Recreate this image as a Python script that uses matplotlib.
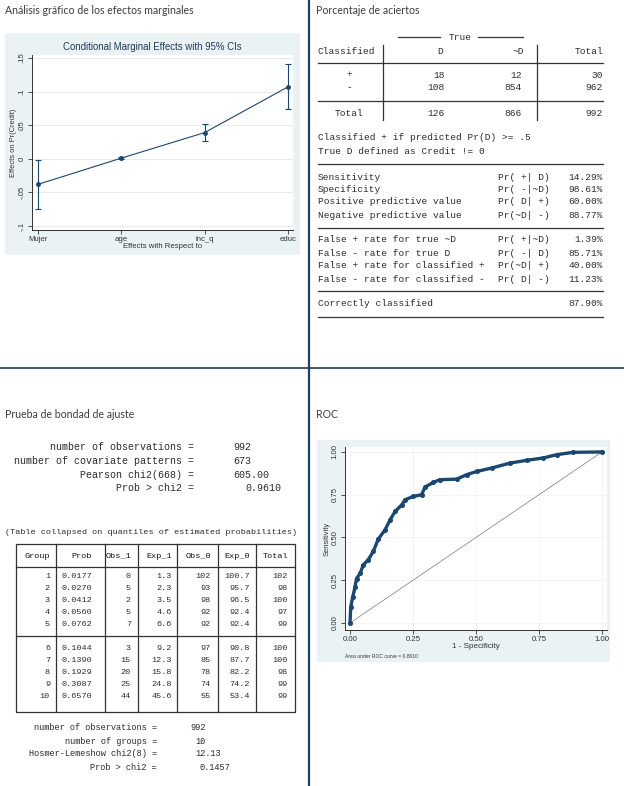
import matplotlib
matplotlib.use("Agg")
import matplotlib.pyplot as plt
from matplotlib.patches import Rectangle

W, H = 624, 786
MONO = "Liberation Mono"
SANS = "Liberation Sans"
NAVY = "#1a476f"
TXT = "#2b2b2b"

# efectos marginales
me_vars = ["Mujer", "age", "inc_q", "educ"]
me_val = [-0.038, 0.001, 0.039, 0.107]
me_lo = [-0.075, 0.0, 0.026, 0.074]
me_hi = [-0.002, 0.002, 0.052, 0.141]
me_yticks = [-0.1, -0.05, 0, 0.05, 0.1, 0.15]
me_ylabels = ["-.1", "-.05", "0", ".05", ".1", ".15"]

# tabla de clasificacion
cl_rows = ["+", "-", "Total"]
cl_D = [18, 108, 126]
cl_nD = [12, 854, 866]
cl_tot = [30, 962, 992]
st1_lbl = ["Sensitivity", "Specificity", "Positive predictive value",
           "Negative predictive value"]
st1_pr = ["Pr( +| D)", "Pr( -|~D)", "Pr( D| +)", "Pr(~D| -)"]
st1_val = [14.29, 98.61, 60.00, 88.77]
st2_lbl = ["False + rate for true ~D", "False - rate for true D",
           "False + rate for classified +", "False - rate for classified -"]
st2_pr = ["Pr( +|~D)", "Pr( -| D)", "Pr(~D| +)", "Pr( D| -)"]
st2_val = [1.39, 85.71, 40.00, 11.23]
correct = 87.90

# bondad de ajuste
gof_lbl = ["number of observations =", "number of covariate patterns =",
           "Pearson chi2(668) =", "Prob > chi2 ="]
gof_val = ["992", "673", "605.00", "0.9610"]
hl_cols = ["Group", "Prob", "Obs_1", "Exp_1", "Obs_0", "Exp_0", "Total"]
hl_group = [1, 2, 3, 4, 5, 6, 7, 8, 9, 10]
hl_prob = [0.0177, 0.0270, 0.0412, 0.0560, 0.0762, 0.1044, 0.1390, 0.1929, 0.3087, 0.6570]
hl_obs1 = [0, 5, 2, 5, 7, 3, 15, 20, 25, 44]
hl_exp1 = [1.3, 2.3, 3.5, 4.6, 6.6, 9.2, 12.3, 15.8, 24.8, 45.6]
hl_obs0 = [102, 93, 98, 92, 92, 97, 85, 78, 74, 55]
hl_exp0 = [100.7, 95.7, 96.5, 92.4, 92.4, 90.8, 87.7, 82.2, 74.2, 53.4]
hl_tot = [102, 98, 100, 97, 99, 100, 100, 98, 99, 99]
hl2_lbl = ["number of observations =", "number of groups =",
           "Hosmer-Lemeshow chi2(8) =", "Prob > chi2 ="]
hl2_val = ["992", "10", "12.13", "0.1457"]

# curva ROC
roc_fpr = [0, 0.003, 0.011, 0.02, 0.026, 0.04, 0.053, 0.073, 0.093, 0.112, 0.139,
           0.159, 0.179, 0.205, 0.218, 0.251, 0.284, 0.298, 0.331, 0.357, 0.423,
           0.463, 0.503, 0.562, 0.635, 0.701, 0.767, 0.82, 0.886, 1.0]
roc_tpr = [0, 0.094, 0.153, 0.21, 0.26, 0.29, 0.34, 0.37, 0.42, 0.49, 0.544,
           0.603, 0.652, 0.69, 0.72, 0.74, 0.75, 0.795, 0.822, 0.838, 0.841,
           0.867, 0.886, 0.906, 0.935, 0.951, 0.965, 0.984, 0.998, 1.0]
roc_area = 0.8010


def rect(x0, y0, x1, y1):
    return [x0 / W, 1 - y1 / H, (x1 - x0) / W, (y1 - y0) / H]


fig = plt.figure(figsize=(W / 100, H / 100), dpi=100)
ov = fig.add_axes([0, 0, 1, 1], zorder=0)
ov.set_xlim(0, W)
ov.set_ylim(H, 0)
ov.axis("off")


def t(x, y, s, ha="left", size=6.8, **kw):
    ov.text(x, y, s, ha=ha, va="center", family=MONO, size=size,
            color=kw.pop("color", TXT), **kw)


def hl(x0, x1, y, lw=0.9, c="#333333"):
    ov.plot([x0, x1], [y, y], color=c, lw=lw)


def vl(x, y0, y1, lw=0.9, c="#333333"):
    ov.plot([x, x], [y0, y1], color=c, lw=lw)


# separadores
vl(308.5, 0, H, lw=1.6, c="#1f3d5c")
hl(0, W, 368, lw=1.2, c="#1f3d5c")

# titulos de seccion
for x, y, s in [(5, 10, "Análisis gráfico de los efectos marginales"),
                (316, 10, "Porcentaje de aciertos"),
                (5, 415, "Prueba de bondad de ajuste"), (316, 415, "ROC")]:
    ov.text(x, y, s, ha="left", va="center", family="Lato", size=7.6, color="#3c3c3c")

# ---- panel 1: efectos marginales
ov.add_patch(Rectangle((5, 33), 295, 222, color="#eaf2f3", lw=0))
ax = fig.add_axes(rect(32, 55, 293, 230), zorder=1)
ax.set_facecolor("white")
xs = list(range(len(me_vars)))
ax.plot(xs, me_val, color=NAVY, lw=0.8, marker="o", ms=2.5)
ax.errorbar(xs, me_val, yerr=[[v - l for v, l in zip(me_val, me_lo)],
                              [h - v for v, h in zip(me_val, me_hi)]],
            fmt="none", ecolor=NAVY, elinewidth=0.8, capsize=2, capthick=0.8)
ax.set_xlim(-0.072, 3.06)
ax.set_ylim(-0.1059, 0.1544)
ax.set_xticks(xs, me_vars)
ax.set_yticks(me_yticks, me_ylabels)
ax.grid(axis="y", color="#e6e6e6", lw=0.6)
ax.set_axisbelow(True)
for s in ["top", "right"]:
    ax.spines[s].set_visible(False)
for s in ["left", "bottom"]:
    ax.spines[s].set_color("#333333")
    ax.spines[s].set_linewidth(0.7)
ax.tick_params(labelsize=5.6, length=3, width=0.6, pad=1.5, colors="#333333")
for lb in ax.get_yticklabels():
    lb.set_rotation(90)
    lb.set_va("center")
ax.set_ylabel("Effects on Pr(Credit)", size=5.4, family=SANS, labelpad=1, color="#333333")
ax.set_xlabel("Effects with Respect to", size=5.6, family=SANS, labelpad=-0.5, color="#333333")
ov.text(152, 47, "Conditional Marginal Effects with 95% CIs", ha="center", va="center",
        family=SANS, size=6.9, color="#1e3a5a")
for lb in ax.get_xticklabels() + ax.get_yticklabels():
    lb.set_family(SANS)

# ---- panel 2: tabla de clasificacion
hl(398, 440, 37)
t(460, 38, "True", ha="center")
hl(478, 523, 37)
t(318, 51, "Classified")
t(440, 51, "D", ha="center")
t(518, 51, "~D", ha="center")
t(603, 51, "Total", ha="right")
vl(383, 45, 120)
vl(537, 45, 120)
hl(318, 603, 63)
hl(318, 603, 101)
for y, r, a, b, c in zip([75, 88, 114], cl_rows, cl_D, cl_nD, cl_tot):
    t(349, y, r, ha="center")
    t(445, y, str(a), ha="right")
    t(522, y, str(b), ha="right")
    t(603, y, str(c), ha="right")
t(318, 138, "Classified + if predicted Pr(D) >= .5")
t(318, 152, "True D defined as Credit != 0")
for y in [164, 228, 291, 317]:
    hl(318, 603, y)
for ys, lbl, pr, val in [([177, 189, 202, 215], st1_lbl, st1_pr, st1_val),
                         ([240, 253, 266, 279], st2_lbl, st2_pr, st2_val)]:
    for y, a, b, c in zip(ys, lbl, pr, val):
        t(318, y, a)
        t(498, y, b)
        t(603, y, "%.2f%%" % c, ha="right")
t(318, 304, "Correctly classified")
t(603, 304, "%.2f%%" % correct, ha="right")

# ---- panel 3: bondad de ajuste
for y, a, b in zip([447, 461, 475, 488], gof_lbl, gof_val):
    t(194, y, a, ha="right", size=7.2)
    t(233 if b != gof_val[-1] else 245, y, b, size=7.2)
t(151, 532, "(Table collapsed on quantiles of estimated probabilities)", ha="center", size=6.1)

tx0, tx1, ty0, ty1 = 16, 295, 544, 712
ov.add_patch(Rectangle((tx0, ty0), tx1 - tx0, ty1 - ty0, fill=False, ec="#333333", lw=0.9))
for x in [56, 105, 138, 177, 218, 256]:
    vl(x, ty0, ty1)
hl(tx0, tx1, 567)
hl(tx0, tx1, 636)
col_r = [50, 92, 131, 172, 211, 250, 288]
for x, s in zip(col_r, hl_cols):
    t(x, 556, s, ha="right", size=6.1, color="#111111")
row_y = [577, 589, 600, 612, 624, 648, 660, 672, 684, 696]
for i, y in enumerate(row_y):
    vals = [str(hl_group[i]), "%.4f" % hl_prob[i], str(hl_obs1[i]), "%.1f" % hl_exp1[i],
            str(hl_obs0[i]), "%.1f" % hl_exp0[i], str(hl_tot[i])]
    for x, s in zip(col_r, vals):
        t(x, y, s, ha="right", size=6.1)
for y, a, b, x in zip([728, 741, 754, 767], hl2_lbl, hl2_val, [190, 195, 195, 200]):
    t(157, y, a, ha="right", size=6.2)
    t(x, y, b, size=6.2)

# ---- panel 4: ROC
ov.add_patch(Rectangle((317, 440), 293, 222, color="#eaf2f3", lw=0))
ar = fig.add_axes(rect(345, 447, 607, 630), zorder=1)
ar.set_facecolor("white")
ar.plot([0, 1], [0, 1], color="#777777", lw=0.5)
ar.plot(roc_fpr, roc_tpr, color=NAVY, lw=2.4, marker="o", ms=2.6,
        solid_joinstyle="round")
ar.set_xlim(-0.0198, 1.02)
ar.set_ylim(-0.041, 1.029)
rt = [0, 0.25, 0.5, 0.75, 1.0]
ar.set_xticks(rt, ["%.2f" % v for v in rt])
ar.set_yticks(rt, ["%.2f" % v for v in rt])
ar.grid(color="#f0f0f0", lw=0.5)
ar.set_axisbelow(True)
for s in ["top", "right"]:
    ar.spines[s].set_visible(False)
for s in ["left", "bottom"]:
    ar.spines[s].set_color("#333333")
    ar.spines[s].set_linewidth(0.7)
ar.tick_params(labelsize=5.6, length=3, width=0.6, pad=1.5, colors="#333333")
for lb in ar.get_yticklabels():
    lb.set_rotation(90)
    lb.set_va("center")
for lb in ar.get_xticklabels() + ar.get_yticklabels():
    lb.set_family(SANS)
ar.set_ylabel("Sensitivity", size=5.4, family=SANS, labelpad=1, color="#333333")
ar.set_xlabel("1 - Specificity", size=5.8, family=SANS, labelpad=0, color="#333333")
ov.text(345, 656, "Area under ROC curve = %.4f" % roc_area, ha="left", va="center",
        family=SANS, size=3.6, color="#333333")

fig.savefig("out.png", dpi=100)
